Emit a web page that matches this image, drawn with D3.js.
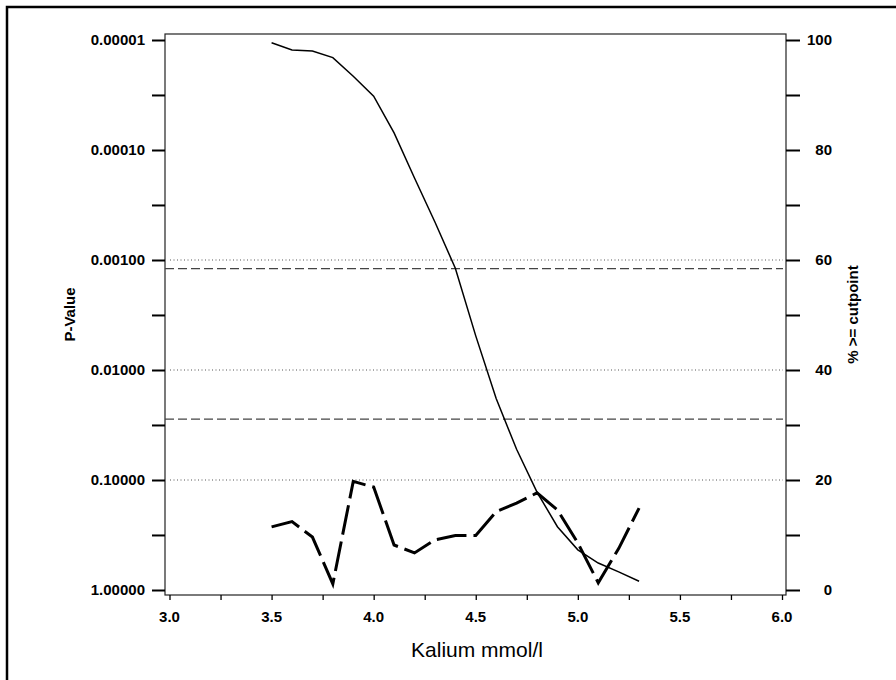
<!DOCTYPE html>
<html>
<head>
<meta charset="utf-8">
<script src="https://cdn.jsdelivr.net/npm/d3@7/dist/d3.min.js"></script>
<style>
  html, body { margin: 0; padding: 0; background: #fff; }
  svg { display: block; font-family: "Liberation Sans", Arial, sans-serif; }
</style>
</head>
<body>
<div id="chart"></div>
<script>
// kalium cutpoints (mmol/l)
const cutpoints = [3.5, 3.6, 3.7, 3.8, 3.9, 4.0, 4.1, 4.2, 4.3, 4.4, 4.5, 4.6, 4.7, 4.8, 4.9, 5.0, 5.1, 5.2, 5.3];
// % of patients >= cutpoint (right axis)
const pctAbove = [99.5, 98.2, 98.0, 96.8, 93.4, 89.8, 83.1, 74.9, 66.9, 58.5, 46.2, 34.8, 25.6, 17.8, 11.5, 7.3, 4.9, 3.3, 1.6];
// p-value of split at cutpoint (left axis, log)
const pValues = [0.267, 0.239, 0.33, 0.88, 0.103, 0.116, 0.39, 0.46, 0.35, 0.32, 0.32, 0.194, 0.162, 0.131, 0.187, 0.374, 0.86, 0.42, 0.18];

const pTicks = [0.00001, 0.0001, 0.001, 0.01, 0.1, 1];
const pMinorTicks = [0.0000316, 0.000316, 0.00316, 0.0316, 0.316];
const pctTicks = [0, 20, 40, 60, 80, 100];
const pctMinorTicks = [10, 30, 50, 70, 90];
const xTicks = [3.0, 3.5, 4.0, 4.5, 5.0, 5.5, 6.0];
const xMinorTicks = [3.25, 3.75, 4.25, 4.75, 5.25, 5.75];
const refDotted = [0.001, 0.01, 0.1];   // reference p levels
const refDashed = [0.0012, 0.028];      // adjusted significance levels

const W = 896, H = 680;
const box = { left: 165, right: 786, top: 34, bottom: 595 };

const svg = d3.select("#chart").append("svg")
  .attr("width", W).attr("height", H);

const x = d3.scaleLinear().domain([3, 6]).range([169.5, 782]);
const yP = d3.scaleLog().domain([0.00001, 1]).range([40, 590]);
const yPct = d3.scaleLinear().domain([0, 100]).range([590, 40]);

// outer frame (left + top only visible)
svg.append("path")
  .attr("d", `M7,${H}V7H${W}`)
  .attr("fill", "none").attr("stroke", "#000").attr("stroke-width", 2.5);

// plot box
svg.append("rect")
  .attr("x", box.left).attr("y", box.top)
  .attr("width", box.right - box.left).attr("height", box.bottom - box.top)
  .attr("fill", "none").attr("stroke", "#222").attr("stroke-width", 1.2);

// reference lines
svg.append("g").selectAll("line")
  .data(refDotted).join("line")
  .attr("x1", 170).attr("x2", 783)
  .attr("y1", d => yP(d)).attr("y2", d => yP(d))
  .attr("stroke", "#555").attr("stroke-width", 1)
  .attr("stroke-dasharray", "1,2.5");

svg.append("g").selectAll("line")
  .data(refDashed).join("line")
  .attr("x1", box.left).attr("x2", 783)
  .attr("y1", d => yP(d)).attr("y2", d => yP(d))
  .attr("stroke", "#444").attr("stroke-width", 1.3)
  .attr("stroke-dasharray", "9,4");

// left axis (p-value)
const gL = svg.append("g")
  .attr("transform", `translate(${box.left},0)`)
  .call(d3.axisLeft(yP).tickValues(pTicks.concat(pMinorTicks)).tickSize(13).tickFormat(""))
  .call(g => g.select(".domain").remove());
gL.selectAll(".tick line").attr("stroke", "#000").attr("stroke-width", 2);

svg.append("g").selectAll("text")
  .data(pTicks).join("text")
  .attr("x", 145).attr("y", d => yP(d)).attr("dy", "0.36em")
  .attr("text-anchor", "end")
  .style("font-size", "15px").style("font-weight", "bold")
  .text(d => d.toFixed(5));

// right axis (% >= cutpoint)
const gR = svg.append("g")
  .attr("transform", `translate(${box.right},0)`)
  .call(d3.axisRight(yPct).tickValues(pctTicks.concat(pctMinorTicks)).tickSize(14).tickFormat(""))
  .call(g => g.select(".domain").remove());
gR.selectAll(".tick line").attr("stroke", "#000").attr("stroke-width", 2);

svg.append("g").selectAll("text")
  .data(pctTicks).join("text")
  .attr("x", 832).attr("y", d => yPct(d)).attr("dy", "0.36em")
  .attr("text-anchor", "end")
  .style("font-size", "15px").style("font-weight", "bold")
  .text(d => d);

// bottom axis
const gB = svg.append("g")
  .attr("transform", `translate(0,${box.bottom})`)
  .call(d3.axisBottom(x).tickValues(xTicks.concat(xMinorTicks)).tickSize(5).tickFormat(""))
  .call(g => g.select(".domain").remove());
gB.selectAll(".tick line").attr("stroke", "#000").attr("stroke-width", 1.3);

svg.append("g").selectAll("text")
  .data(xTicks).join("text")
  .attr("x", d => x(d)).attr("y", 622)
  .attr("text-anchor", "middle")
  .style("font-size", "15px").style("font-weight", "bold")
  .text(d => d.toFixed(1));

// axis titles
svg.append("text")
  .attr("x", 477).attr("y", 657)
  .attr("text-anchor", "middle")
  .style("font-size", "21px")
  .text("Kalium mmol/l");

svg.append("text")
  .attr("transform", `translate(75,${(box.top + box.bottom) / 2}) rotate(-90)`)
  .attr("text-anchor", "middle")
  .style("font-size", "15px").style("font-weight", "bold")
  .text("P-Value");

svg.append("text")
  .attr("transform", `translate(858,${(box.top + box.bottom) / 2}) rotate(-90)`)
  .attr("text-anchor", "middle")
  .style("font-size", "15px").style("font-weight", "bold")
  .text("% >= cutpoint");

// series
const pctLine = d3.line()
  .x((d, i) => x(cutpoints[i]))
  .y(d => yPct(d));
svg.append("path")
  .datum(pctAbove)
  .attr("d", pctLine)
  .attr("fill", "none").attr("stroke", "#000").attr("stroke-width", 1.5);

const pLine = d3.line()
  .x((d, i) => x(cutpoints[i]))
  .y(d => yP(d));
svg.append("path")
  .datum(pValues)
  .attr("d", pLine)
  .attr("fill", "none").attr("stroke", "#000").attr("stroke-width", 3)
  .attr("stroke-dasharray", "30,7");
</script>
</body>
</html>
